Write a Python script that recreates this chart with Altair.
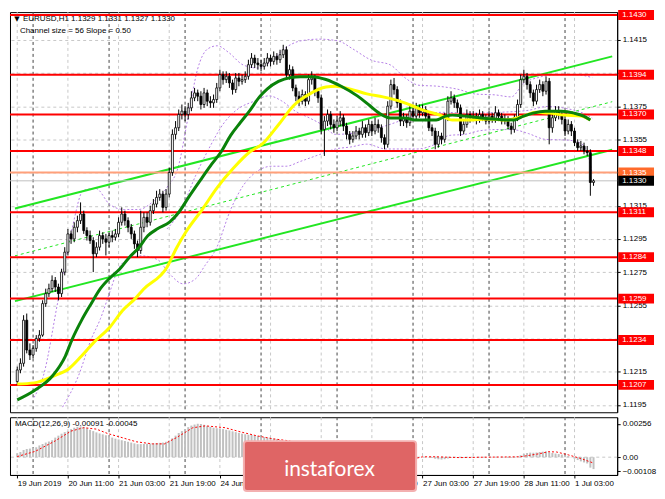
import altair as alt
import pandas as pd

W, H1, H2 = 610, 402, 58
FONT = "Liberation Sans"

# ---------------- data (prices in points = price * 10000) ----------------
first_open = 11209
closes = [
    11216, 11220, 11246, 11228, 11225, 11229, 11235, 11237, 11256, 11262,
    11265, 11270, 11266, 11262, 11275, 11287, 11298, 11295, 11302, 11306,
    11310, 11300, 11297, 11294, 11286, 11290, 11297, 11295, 11293, 11297,
    11296, 11298, 11305, 11310, 11306, 11302, 11298, 11292, 11288, 11302,
    11308, 11305, 11312, 11316, 11320, 11322, 11314, 11322, 11335, 11358,
    11362, 11370, 11372, 11370, 11374, 11380, 11383, 11381, 11376, 11383,
    11378, 11377, 11379, 11386, 11394, 11391, 11393, 11389, 11385, 11392,
    11390, 11391, 11393, 11400, 11404, 11401, 11400, 11399, 11401, 11404,
    11402, 11405, 11403, 11406, 11409, 11394, 11397, 11386, 11381, 11378,
    11382, 11378, 11391, 11392, 11384, 11380, 11361, 11366, 11370, 11364,
    11362, 11366, 11368, 11363, 11358, 11355, 11357, 11360, 11358, 11362,
    11359, 11364, 11360, 11364, 11362, 11356, 11352, 11375, 11388, 11385,
    11377, 11366, 11368, 11365, 11372, 11369, 11374, 11371, 11373, 11369,
    11362, 11360, 11352, 11357, 11355, 11368, 11378, 11380, 11377, 11374,
    11360, 11364, 11370, 11368, 11369, 11367, 11370, 11368, 11366, 11369,
    11367, 11371, 11369, 11366, 11367, 11363, 11361, 11368, 11376, 11391,
    11393, 11388, 11383, 11378, 11385, 11388, 11384, 11390, 11362, 11368,
    11372, 11370, 11367, 11360, 11364, 11360, 11353, 11350, 11351, 11348,
    11347, 11329, 11330,
]
highs = [
    11218, 11223, 11249, 11250, 11232, 11231, 11237, 11240, 11258, 11265,
    11268, 11273, 11272, 11268, 11277, 11290, 11301, 11300, 11305, 11309,
    11317, 11312, 11302, 11300, 11296, 11293, 11300, 11299, 11298, 11299,
    11300, 11301, 11308, 11314, 11312, 11308, 11304, 11300, 11294, 11312,
    11311, 11311, 11315, 11319, 11324, 11325, 11324, 11325, 11338, 11361,
    11366, 11373, 11376, 11375, 11377, 11384, 11386, 11385, 11384, 11386,
    11385, 11381, 11382, 11389, 11397, 11396, 11396, 11395, 11391, 11395,
    11395, 11394, 11396, 11403, 11407, 11406, 11404, 11403, 11404, 11407,
    11406, 11408, 11407, 11409, 11412, 11411, 11400, 11399, 11388, 11384,
    11385, 11384, 11394, 11396, 11394, 11386, 11382, 11369, 11373, 11372,
    11367, 11369, 11372, 11370, 11365, 11360, 11360, 11363, 11362, 11366,
    11364, 11367, 11366, 11368, 11367, 11364, 11358, 11378, 11391, 11392,
    11387, 11379, 11371, 11370, 11375, 11374, 11377, 11376, 11376, 11375,
    11371, 11364, 11362, 11360, 11359, 11371, 11381, 11384, 11382, 11379,
    11376, 11367, 11373, 11372, 11372, 11371, 11373, 11372, 11370, 11372,
    11371, 11375, 11373, 11371, 11370, 11369, 11365, 11370, 11379, 11394,
    11397, 11395, 11390, 11385, 11388, 11391, 11390, 11393, 11392, 11371,
    11375, 11375, 11372, 11369, 11367, 11366, 11362, 11355, 11354, 11353,
    11351, 11349, 11331,
]
lows = [
    11207, 11214, 11218, 11226, 11222, 11223, 11227, 11233, 11236, 11254,
    11260, 11263, 11263, 11258, 11260, 11273, 11285, 11292, 11293, 11299,
    11304, 11298, 11294, 11292, 11275, 11284, 11288, 11292, 11285, 11290,
    11293, 11294, 11296, 11303, 11303, 11299, 11295, 11289, 11284, 11286,
    11299, 11302, 11303, 11310, 11314, 11318, 11311, 11312, 11320, 11333,
    11355, 11360, 11367, 11366, 11367, 11372, 11378, 11378, 11373, 11374,
    11375, 11374, 11374, 11377, 11384, 11388, 11389, 11386, 11382, 11383,
    11387, 11388, 11389, 11391, 11398, 11398, 11397, 11396, 11397, 11399,
    11399, 11400, 11400, 11401, 11404, 11392, 11391, 11384, 11378, 11375,
    11376, 11375, 11376, 11388, 11381, 11377, 11358, 11345, 11363, 11361,
    11359, 11360, 11363, 11360, 11355, 11352, 11353, 11355, 11355, 11356,
    11356, 11357, 11357, 11358, 11359, 11353, 11349, 11350, 11373, 11382,
    11374, 11363, 11363, 11362, 11363, 11366, 11367, 11368, 11369, 11366,
    11360, 11357, 11349, 11350, 11352, 11353, 11366, 11376, 11374, 11371,
    11357, 11358, 11362, 11365, 11366, 11364, 11365, 11366, 11364, 11364,
    11365, 11365, 11366, 11364, 11364, 11361, 11358, 11359, 11366, 11374,
    11389, 11385, 11380, 11375, 11376, 11383, 11381, 11382, 11352, 11359,
    11366, 11367, 11364, 11357, 11358, 11357, 11351, 11348, 11348, 11346,
    11345, 11321, 11327,
]

# MACD histogram, units of 0.00001
macd_hist = [
    30, 40, 55, 62, 66, 70, 76, 90, 102, 112,
    120, 130, 150, 165, 180, 192, 200, 215, 225, 232,
    236, 232, 222, 210, 200, 190, 182, 175, 168, 160,
    150, 142, 136, 130, 124, 118, 112, 106, 100, 100,
    101, 103, 104, 106, 108, 110, 112, 118, 128, 145,
    165, 185, 200, 215, 230, 242, 250, 256, 254, 248,
    240, 232, 226, 222, 220, 215, 210, 205, 198, 192,
    186, 180, 176, 172, 170, 166, 162, 158, 154, 150,
    146, 142, 138, 130, 124, 116, 108, 98, 80, 62,
    48, 40, 36, 32, 26, 20, 12, 8, 6, 5,
    5, 4, 5, 4, 3, 2, 2, 3, 3, 4,
    4, 5, 5, 5, 4, 3, 2, 4, 8, 10,
    9, 6, 5, 4, 4, 3, 2, 1, 1, 0,
    -3, -6, -12, -16, -18, -15, -10, -6, -3, -2,
    -5, -6, -4, -3, -3, -2, -2, -2, -2, -1,
    -1, 0, -1, -2, -3, -4, -5, -3, 5, 15,
    25, 32, 35, 34, 36, 40, 42, 44, 38, 32,
    28, 24, 20, 14, 8, -2, -12, -22, -32, -40,
    -48, -80, -91,
]
signal_i = [0, 5.7, 12, 17, 21, 25, 28.7, 32.5, 37.6, 42.7, 46.5, 50.3, 55.4, 59.4, 65.6,
            70.8, 75.8, 81, 86, 88.6, 93.7, 100, 104, 114, 125.6, 128, 132, 139.7, 147.3,
            158.8, 165, 167.7, 170.3, 174, 178, 182]
signal_v = [5, 45, 125, 200, 226, 215, 180, 154, 118, 102, 102, 150, 225, 240, 226,
            192, 163, 140, 125, 95, 40, -5, 0, 2, -10, 3, 3, -3, 0,
            3, 27, 42, 40, 18, -10, -45]

# moving averages (bar index, points)
green_i = [0, 5.3, 11.3, 15.2, 17.3, 20.3, 23.3, 26.3, 29.3, 32.3, 35.3, 38.3, 41.3, 44.3, 48.2,
           51.2, 54.2, 58.4, 61.4, 64.4, 67.4, 70.4, 73.5, 76.5, 78.9, 82.5, 86.4, 89.4, 93.3, 97.5,
           102.3, 107.4, 111.3, 114.3, 117.9, 122.4, 125.4, 132.3, 135.3, 137.4, 141.3, 146.4,
           156.9, 159.9, 162.9, 166.8, 171.9, 175.9, 178.9, 181.0]
green_p = [11198, 11203.5, 11212.8, 11224.4, 11234.3, 11245.9, 11255.8, 11265.1, 11271.5, 11276.7,
           11283.7, 11289.5, 11297.0, 11301.1, 11305.2, 11311.5, 11320.3, 11331.9, 11340.0, 11347.5,
           11357.4, 11365.0, 11372.5, 11380.6, 11385.3, 11389.9, 11392.3, 11392.8, 11392.8, 11391.1,
           11387.0, 11381.2, 11375.4, 11370.8, 11367.9, 11367.9, 11366.7, 11366.7, 11369.0, 11369.6,
           11369.0, 11367.9, 11366.7, 11369.0, 11370.8, 11371.9, 11371.9, 11370.8, 11369.0, 11366.7]
yellow_i = [0, 5.3, 11.3, 16.4, 20.3, 24.2, 29.3, 33.2, 37.4, 39.8, 47.3, 50.3, 53.3, 58.4, 63.2,
            68.3, 73.5, 77.4, 82.5, 87.3, 92.4, 97.5, 100.5, 105.3, 110.4, 115.5, 120.3, 124.5,
            128.4, 133.5, 137.4, 142.5, 148.5, 154.5, 159.9, 163.8, 168.0, 172.8, 177.9, 181.0]
yellow_p = [11207.5, 11208.2, 11212.2, 11216.9, 11224.4, 11232.6, 11241.9, 11251.7, 11259.3, 11264.5,
            11277.9, 11289.5, 11299.3, 11312.7, 11326.1, 11337.7, 11347.5, 11352.2, 11363.8, 11375.4,
            11382.4, 11386.5, 11387.0, 11385.3, 11382.4, 11380.6, 11378.3, 11375.4, 11372.5, 11369.6,
            11366.7, 11366.7, 11367.3, 11366.7, 11369.0, 11371.4, 11370.8, 11369.6, 11369.0, 11366.7]

# purple dotted bands (bar index, points)
upper_i = [5.3, 8.3, 12.8, 17.3, 20.9, 24.8, 29.3, 33.8, 38.3, 42.8, 47.3, 50.9, 53.9, 56.9, 60.2,
           63.2, 66.8, 71.4, 75.9, 79.8, 84.3, 89.4, 95.4, 101.4, 105.9, 111.9, 117.9, 122.4, 126.9,
           132.9, 138.9, 144.9, 150.9, 156.0, 159.9, 164.4, 170.4, 176.4, 181.6]
upper_p = [11199.4, 11212.8, 11257.0, 11301.0, 11324.3, 11325.4, 11315.6, 11312.7, 11312.7, 11317.3,
           11326.0, 11338.8, 11367.8, 11396.9, 11409.6, 11411.4, 11407.3, 11399.8, 11398.0, 11401.5,
           11409.6, 11414.3, 11415.4, 11414.3, 11409.6, 11402.7, 11399.8, 11392.2, 11387.6, 11387.0,
           11385.3, 11382.3, 11381.8, 11380.6, 11388.7, 11392.2, 11394.0, 11394.0, 11392.2]
middle_i = [47.3, 51.8, 56.3, 60.8, 65.3, 69.9, 74.4, 79.5, 83.4, 87.9, 92.4, 96.3, 100.5, 107.4,
            116.4, 125.4, 134.4, 143.4, 152.4, 161.4, 167.4, 173.4, 179.5, 181.6]
middle_p = [11301.0, 11312.7, 11333.0, 11350.4, 11364.9, 11373.6, 11377.7, 11381.2, 11378.3, 11371.9,
            11367.8, 11363.8, 11358.0, 11359.1, 11363.2, 11369.0, 11371.3, 11370.7, 11371.3, 11372.5,
            11374.8, 11373.6, 11370.1, 11367.8]
lower_i = [14.3, 19.4, 23.3, 26.3, 29.3, 31.7, 34.7, 39.2, 44.3, 48.2, 52.4, 56.3, 59.3, 62.9, 67.4,
           71.4, 75.9, 80.4, 84.9, 89.4, 95.4, 100.5, 105.3, 110.4, 116.4, 126.3, 131.4, 136.5,
           141.3, 146.4, 151.5, 156.3, 161.4, 166.8, 174.1, 177.9, 180.4, 181.6]
lower_p = [11193.6, 11212.8, 11234.3, 11247.0, 11263.3, 11276.1, 11282.5, 11284.8, 11282.5, 11273.7,
           11267.9, 11270.9, 11279.0, 11289.4, 11312.7, 11327.2, 11335.9, 11338.8, 11338.8, 11341.7,
           11345.8, 11349.2, 11350.4, 11352.1, 11349.2, 11349.2, 11351.6, 11357.4, 11358.0, 11360.3,
           11360.9, 11360.9, 11358.5, 11355.0, 11354.5, 11352.7, 11344.6, 11334.1]

# regression channel (ends at chart edges)
channel_i = [-0.72, 187.9]
channel_upper = [11313.3, 11405.0]
channel_mid = [11284.8, 11377.7]
channel_lower = [11257.5, 11348.7]

levels = [1.1430, 1.1394, 1.1370, 1.1348, 1.1311, 1.1284, 1.1259, 1.1234, 1.1207]
orange_level = 1.1335
bid_level = 1.1330
price_ticks = [1.1195, 1.1215, 1.1235, 1.1255, 1.1275, 1.1295, 1.1315, 1.1335,
               1.1355, 1.1375, 1.1395, 1.1415]
macd_ticks = [0.00256, 0.0, -0.00108]
time_tick_i = [0, 16, 32, 48, 64, 80, 96, 112, 128, 144, 160, 176]
time_labels = ["19 Jun 2019", "20 Jun 11:00", "21 Jun 03:00", "21 Jun 19:00", "24 Jun 11:00",
               "25 Jun 03:00", "25 Jun 19:00", "26 Jun 11:00", "27 Jun 03:00", "27 Jun 19:00",
               "28 Jun 11:00", "1 Jul 03:00"]
day_sep_i = [5, 29, 53, 77, 101, 125, 149, 173]

header = "EURUSD,H1  1.1329 1.1331 1.1327 1.1330"
channel_text = "Channel size = 56 Slope = 0.50"
macd_text = "MACD(12,26,9) -0.00091 -0.00045"

# ---------------- tables ----------------
P = 10000.0
n = len(closes)
opens = [first_open] + closes[:-1]
candles = pd.DataFrame({
    "i": list(range(n)),
    "open": [v / P for v in opens],
    "high": [v / P for v in highs],
    "low": [v / P for v in lows],
    "close": [v / P for v in closes],
    "dir": ["up" if c >= o else "down" for o, c in zip(opens, closes)],
})
macd_df = pd.DataFrame({"i": list(range(len(macd_hist))), "v": [v / 1e5 for v in macd_hist]})
sig_df = pd.DataFrame({"i": signal_i, "v": [v / 1e5 for v in signal_v]})
green_df = pd.DataFrame({"i": green_i, "p": [v / P for v in green_p]})
yellow_df = pd.DataFrame({"i": yellow_i, "p": [v / P for v in yellow_p]})
bands = pd.concat([
    pd.DataFrame({"band": name, "i": bi, "p": [v / P for v in bp]})
    for name, bi, bp in [("upper", upper_i, upper_p), ("middle", middle_i, middle_p),
                         ("lower", lower_i, lower_p)]
])
chan = pd.concat([
    pd.DataFrame({"line": "upper", "i": channel_i, "p": [v / P for v in channel_upper]}),
    pd.DataFrame({"line": "lower", "i": channel_i, "p": [v / P for v in channel_lower]}),
])
chan_mid = pd.DataFrame({"i": channel_i, "p": [v / P for v in channel_mid]})
lev_df = pd.DataFrame({"price": levels, "label": [f"{v:.4f}" for v in levels]})
orange_df = pd.DataFrame({"price": [orange_level], "label": [f"{orange_level:.4f}"]})
bid_df = pd.DataFrame({"price": [bid_level], "label": [f"{bid_level:.4f}"]})
vgrid_df = pd.DataFrame({"i": time_tick_i})
dsep_df = pd.DataFrame({"i": day_sep_i})
zero_df = pd.DataFrame({"v": [0.0]})

# ---------------- scales / encodings ----------------
xscale = alt.Scale(domain=[-0.72, 187.9], nice=False, zero=False)
pscale = alt.Scale(domain=[1.11905, 1.14317], nice=False, zero=False)
mscale = alt.Scale(domain=[-0.00136, 0.00306], nice=False, zero=False)

paxis = alt.Axis(orient="right", values=price_ticks, format=".4f", title=None, grid=True,
                 gridDash=[3, 3], gridColor="#c8c8c8", tickSize=3, labelPadding=2,
                 labelFontSize=8, labelColor="black", tickColor="black", domainColor="black",
                 labelFont=FONT)
maxis = alt.Axis(orient="right", values=macd_ticks, title=None, grid=False, tickSize=3,
                 labelPadding=2, labelFontSize=8, labelColor="black", tickColor="black",
                 domainColor="black", labelFont=FONT,
                 labelExpr="datum.value == 0 ? '0.00' : format(datum.value, '.5f')")
lab_arr = "[" + ",".join("'" + s + "'" for s in time_labels) + "]"
xaxis = alt.Axis(values=time_tick_i, title=None, grid=False, tickSize=3, labelPadding=2,
                 labelAlign="left", labelFontSize=8, labelColor="black", labelFont=FONT,
                 tickColor="black", domainColor="black", labelOverlap=False, labelFlush=False,
                 labelExpr=lab_arr + "[round(datum.value / 16)]")


def XP(f="i"):
    return alt.X(f + ":Q", scale=xscale, axis=None)


def XM(f="i"):
    return alt.X(f + ":Q", scale=xscale, axis=xaxis)


def YP(f):
    return alt.Y(f + ":Q", scale=pscale, axis=paxis)


def YM(f):
    return alt.Y(f + ":Q", scale=mscale, axis=maxis)


# ---------------- main price panel ----------------
vgrid = alt.Chart(vgrid_df).mark_rule(color="#c8c8c8", strokeDash=[3, 3], strokeWidth=1).encode(x=XP())
dsep = alt.Chart(dsep_df).mark_rule(color="#444444", strokeDash=[3, 3], strokeWidth=1).encode(x=XP())
band_lines = alt.Chart(bands).mark_line(color="#b47fe6", strokeDash=[2, 2], strokeWidth=1,
                                        interpolate="monotone").encode(
    x=XP(), y=YP("p"), detail="band:N")
chan_lines = alt.Chart(chan).mark_line(color="#22e622", strokeWidth=2).encode(
    x=XP(), y=YP("p"), detail="line:N")
chan_mid_line = alt.Chart(chan_mid).mark_line(color="#22e622", strokeWidth=1, strokeDash=[3, 3]).encode(
    x=XP(), y=YP("p"))
lev_rules = alt.Chart(lev_df).mark_rule(color="#ff0000", strokeWidth=2).encode(y=YP("price"))
orange_rule = alt.Chart(orange_df).mark_rule(color="#ffa07a", strokeWidth=2).encode(y=YP("price"))
bid_rule = alt.Chart(bid_df).mark_rule(color="#c0c0c0", strokeWidth=1).encode(y=YP("price"))
wicks = alt.Chart(candles).mark_rule(color="black", strokeWidth=1).encode(
    x=XP(), y=YP("low"), y2=alt.Y2("high:Q"))
bodies = alt.Chart(candles).mark_bar(size=2, stroke="black", strokeWidth=0.8).encode(
    x=XP(), y=YP("open"), y2=alt.Y2("close:Q"),
    fill=alt.Fill("dir:N", scale=alt.Scale(domain=["up", "down"], range=["white", "black"]), legend=None))
yellow_line = alt.Chart(yellow_df).mark_line(color="#ffff00", strokeWidth=3, interpolate="monotone").encode(
    x=XP(), y=YP("p"))
green_line = alt.Chart(green_df).mark_line(color="#0a820a", strokeWidth=3, interpolate="monotone").encode(
    x=XP(), y=YP("p"))


def price_box(df, fill):
    box = alt.Chart(df).mark_rect(color=fill, yOffset=-5, y2Offset=5).encode(
        x=alt.value(W + 1), x2=alt.value(W + 37), y=YP("price"), y2=alt.Y2("price:Q"))
    txt = alt.Chart(df).mark_text(align="left", baseline="middle", color="white", fontSize=8,
                                  font=FONT).encode(x=alt.value(W + 5), y=YP("price"), text="label:N")
    return box + txt


head_df = pd.DataFrame({"t": [header]})
chan_df = pd.DataFrame({"t": [channel_text]})
tri = alt.Chart(head_df).mark_text(text="▼", fontSize=7, font="DejaVu Sans", color="black",
                                   baseline="middle").encode(x=alt.value(7), y=alt.value(7))
head = alt.Chart(head_df).mark_text(align="left", baseline="middle", fontSize=8, font=FONT,
                                    color="black").encode(x=alt.value(13), y=alt.value(7), text="t:N")
chan_t = alt.Chart(chan_df).mark_text(align="left", baseline="middle", fontSize=8, font=FONT,
                                      color="black").encode(x=alt.value(10), y=alt.value(19), text="t:N")

main = alt.layer(
    vgrid, dsep, band_lines, chan_lines, chan_mid_line, lev_rules, orange_rule, bid_rule,
    wicks, bodies, yellow_line, green_line,
    price_box(lev_df, "#ff0000"), price_box(orange_df, "#ff6a2a"), price_box(bid_df, "#000000"),
    tri, head, chan_t,
).properties(width=W, height=H1)

# ---------------- MACD panel ----------------
vgrid_m = alt.Chart(vgrid_df).mark_rule(color="#c8c8c8", strokeDash=[3, 3], strokeWidth=1).encode(x=XM())
dsep_m = alt.Chart(dsep_df).mark_rule(color="#444444", strokeDash=[3, 3], strokeWidth=1).encode(x=XM())
zero_rule = alt.Chart(zero_df).mark_rule(color="#c8c8c8", strokeDash=[3, 3]).encode(y=YM("v"))
hist = alt.Chart(macd_df).mark_bar(size=2, color="#c0c0c0").encode(
    x=XM(), y=YM("v"), y2=alt.datum(0))
sig = alt.Chart(sig_df).mark_line(color="#ff0000", strokeDash=[2, 2], strokeWidth=1).encode(
    x=XM(), y=YM("v"))
mt_df = pd.DataFrame({"t": [macd_text]})
macd_t = alt.Chart(mt_df).mark_text(align="left", baseline="middle", fontSize=8, font=FONT,
                                    color="black").encode(x=alt.value(5), y=alt.value(7), text="t:N")
logo_df = pd.DataFrame({"t": ["instaforex"]})
logo_box = alt.Chart(logo_df).mark_rect(color="#df6565", stroke="#f3b0b0", strokeWidth=2,
                                        cornerRadius=3).encode(
    x=alt.value(235), x2=alt.value(408), y=alt.value(24), y2=alt.value(74))
logo_txt = alt.Chart(logo_df).mark_text(color="white", fontSize=21, font="Lato", align="center",
                                        baseline="middle").encode(
    x=alt.value(321), y=alt.value(53), text="t:N")

macd = alt.layer(vgrid_m, dsep_m, zero_rule, hist, sig, macd_t, logo_box, logo_txt).properties(
    width=W, height=H2)

chart = alt.vconcat(main, macd, spacing=3).resolve_scale(x="independent", y="independent").properties(
    padding={"left": 0, "top": 0, "right": 0, "bottom": 0}
).configure(background="white", font=FONT).configure_view(stroke="black", strokeWidth=1)

chart.save("out.html", embed_options={"renderer": "svg", "actions": False})
